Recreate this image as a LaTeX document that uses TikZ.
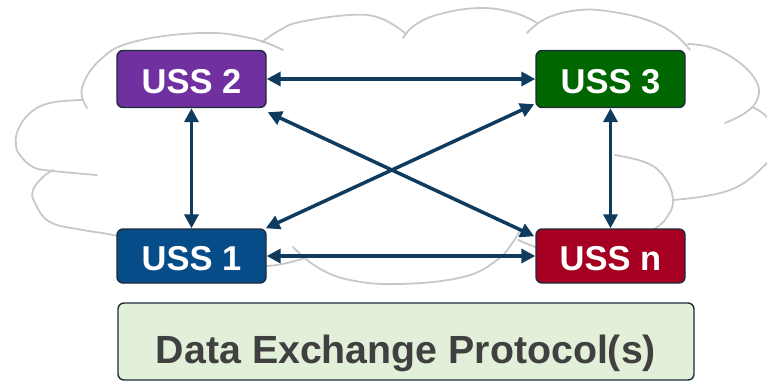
\documentclass[tikz,border=0pt]{standalone}
\usepackage{fontspec}
\setmainfont{Liberation Sans}
\usetikzlibrary{arrows.meta,calc}
\definecolor{arrowblue}{HTML}{0F3B5F}
\definecolor{boxline}{HTML}{1E2B3A}
\definecolor{usspurple}{HTML}{7030A0}
\definecolor{ussgreen}{HTML}{006600}
\definecolor{ussblue}{HTML}{054C89}
\definecolor{ussred}{HTML}{A50021}
\definecolor{protofill}{HTML}{E2F0D9}
\definecolor{prototext}{HTML}{404040}
\definecolor{cloudgray}{HTML}{C8C8C8}
\tikzset{
  cloudline/.style={draw=cloudgray, line width=1.8pt, line cap=round},
  ussbox/.style={draw=boxline, line width=1.4pt, rounded corners=6pt,
    minimum width=149pt, minimum height=57pt, inner sep=0pt,
    text=white, font=\fontsize{34.5}{38}\selectfont\bfseries,
    text height=29pt, text depth=0pt},
  protobox/.style={draw=boxline, line width=1.4pt, rounded corners=6pt, fill=protofill,
    minimum width=576pt, minimum height=77pt, inner sep=0pt,
    text=prototext, font=\fontsize{39.3}{43}\selectfont\bfseries,
    text height=44pt, text depth=0pt},
  link/.style={draw=arrowblue, line width=3.5pt, {Triangle[length=14pt,width=14pt]}-{Triangle[length=14pt,width=14pt]}}
}
\begin{document}
\begin{tikzpicture}[x=1pt,y=-1pt]
\useasboundingbox (0,0) rectangle (767,381);
\begin{scope}
\clip (0,0) rectangle (767,381);
% cloud lobes
\draw[cloudline] plot[smooth,tension=0.7] coordinates {(87,108) (82,88) (100,60) (133,42) (200,33) (250,38) (283,50)};
\draw[cloudline] plot[smooth,tension=0.7] coordinates {(262,42) (280,30) (300,22) (350,15) (380,18) (405,33)};
\draw[cloudline] plot[smooth,tension=0.7] coordinates {(403,38) (415,25) (440,14) (480,8) (515,13) (537,23)};
\draw[cloudline] plot[smooth,tension=0.7] coordinates {(527,33) (547,18) (580,10) (613,12) (647,20) (673,33) (690,50)};
\draw[cloudline] plot[smooth,tension=0.7] coordinates {(688,44) (713,48) (740,63) (757,83) (757,100) (745,113) (725,123)};
\draw[cloudline] plot[smooth,tension=0.7] coordinates {(752,107) (767,117) (782,140) (767,163) (730,190) (673,200)};
\draw[cloudline] plot[smooth,tension=0.7] coordinates {(615,155) (647,163) (665,178) (673,200) (667,217) (653,230) (620,250) (580,256) (550,252) (518,240)};
\draw[cloudline] plot[smooth,tension=0.7] coordinates {(293,247) (317,267) (350,280) (400,284) (463,277) (497,260) (513,242) (520,230)};
\draw[cloudline] plot[smooth,tension=0.7] coordinates {(305,258) (267,266) (220,262) (150,245) (113,235) (83,230) (50,222) (35,203) (33,190) (43,177) (53,170)};
\draw[cloudline] plot[smooth,tension=0.7] coordinates {(82,100) (50,103) (30,113) (18,130) (16,145) (20,155) (33,167) (53,171) (97,175)};
\end{scope}
% USS boxes
\node[ussbox, fill=usspurple] (s2) at (191.5,79) {USS 2};
\node[ussbox, fill=ussgreen] (s3) at (610.5,79) {USS 3};
\node[ussbox, fill=ussblue, minimum height=54pt] (s1) at (191.5,256) {USS 1};
\node[ussbox, fill=ussred, minimum height=54pt] (sn) at (610.5,256) {USS n};
% protocol box
\node[protobox] (proto) at (406,341.5) {Data Exchange Protocol(s)};
% links
\draw[link] (s2.east) -- (s3.west);
\draw[link] (s1.east) -- (sn.west);
\draw[link] (s2.south) -- (s1.north);
\draw[link] (s3.south) -- (sn.north);
\coordinate (d1a) at ($(s2.south east)+(1,4)$);
\coordinate (d1b) at ($(sn.north west)+(-1,8)$);
\coordinate (d2a) at ($(s1.north east)+(-1,0)$);
\coordinate (d2b) at ($(s3.south west)+(-1,-4)$);
\draw[link] (d1a) -- (d1b);
\draw[link] (d2a) -- (d2b);
\end{tikzpicture}
\end{document}
